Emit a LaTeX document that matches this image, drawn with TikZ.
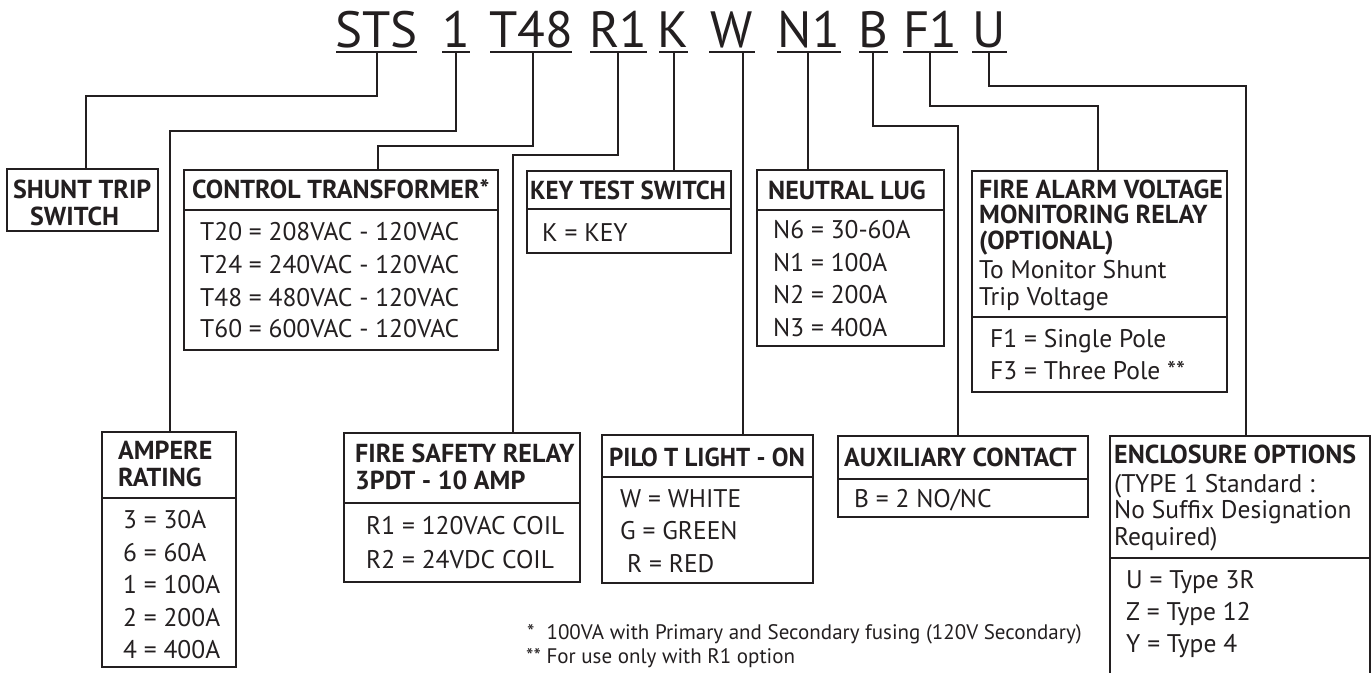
\documentclass[tikz,border=0pt]{standalone}
\usepackage{fontspec}
\setmainfont{PT Sans}
\newfontfamily\sqfont{PT Sans}[FakeStretch=0.96]
\definecolor{ink}{HTML}{231F20}
\begin{document}
\begin{tikzpicture}[x=1pt,y=-1pt,
  box/.style={draw=ink, line width=2.2pt, inner sep=0pt, outer sep=0pt, anchor=north west},
  sepline/.style={draw=ink, line width=2.2pt},
  conn/.style={draw=ink, line width=2pt},
  uline/.style={draw=ink, line width=2.2pt},
  hd/.style={anchor=base west, inner sep=0pt, text=ink, font=\fontsize{26}{26}\selectfont\bfseries},
  hdsq/.style={anchor=base west, inner sep=0pt, text=ink, font=\fontsize{26}{26}\sqfont\bfseries},
  bd/.style={anchor=base west, inner sep=0pt, text=ink, font=\fontsize{25.5}{25.5}\selectfont},
  code/.style={anchor=base, inner sep=0pt, text=ink, font=\fontsize{51}{51}\selectfont},
  fn/.style={anchor=base west, inner sep=0pt, text=ink, font=\fontsize{21}{21}\selectfont}]
\useasboundingbox (0,0) rectangle (1372,672);

% ---- code letters ----
\node[code] (c-sts) at (376.5,47) {STS};
\node[code] (c-1)   at (456,47)   {1};
\node[code] (c-t48) at (531,47)   {T48};
\node[code] (c-r1)  at (618.5,47) {R1};
\node[code] (c-k)   at (673.5,47) {K};
\node[code] (c-w)   at (732,47)   {W};
\node[code] (c-n1)  at (809,47)   {N1};
\node[code] (c-b)   at (873.5,47) {B};
\node[code] (c-f1)  at (930.5,47) {F1};
\node[code] (c-u)   at (989.5,47) {U};

\draw[uline] (336,52) -- (417,52);
\draw[uline] (442,52) -- (470,52);
\draw[uline] (490,52) -- (572,52);
\draw[uline] (590,52) -- (647,52);
\draw[uline] (659,52) -- (688,52);
\draw[uline] (709,52) -- (755,52);
\draw[uline] (777,52) -- (841,52);
\draw[uline] (859,52) -- (888,52);
\draw[uline] (903,52) -- (958,52);
\draw[uline] (972,52) -- (1007,52);

\coordinate (u-sts) at (377,52);
\coordinate (u-1)   at (456,52);
\coordinate (u-t48) at (533,52);
\coordinate (u-r1)  at (618,52);
\coordinate (u-k)   at (674,52);
\coordinate (u-w)   at (743,52);
\coordinate (u-n1)  at (808,52);
\coordinate (u-b)   at (873,52);
\coordinate (u-f1)  at (930,52);
\coordinate (u-u)   at (989,52);

% ---- boxes ----
\node[box, minimum width=151pt, minimum height=62pt]  (shunt)   at (7,169) {};
\node[box, minimum width=314pt, minimum height=180pt] (control) at (184,170) {};
\node[box, minimum width=204pt, minimum height=82pt]  (key)     at (527,171) {};
\node[box, minimum width=187pt, minimum height=176pt] (neutral) at (757,170) {};
\node[box, minimum width=255pt, minimum height=221pt] (alarm)   at (972,171) {};
\node[box, minimum width=134pt, minimum height=235pt] (ampere)  at (102,432) {};
\node[box, minimum width=236pt, minimum height=149pt] (safety)  at (344,433) {};
\node[box, minimum width=211pt, minimum height=148pt] (pilot)   at (602,435) {};
\node[box, minimum width=250pt, minimum height=81pt]  (aux)     at (838,436) {};
\node[box, minimum width=260pt, minimum height=260pt] (encl)    at (1110,436) {};

% separators
\draw[sepline] (control.west |- 0,210) -- (control.east |- 0,210);
\draw[sepline] (key.west |- 0,209) -- (key.east |- 0,209);
\draw[sepline] (neutral.west |- 0,210) -- (neutral.east |- 0,210);
\draw[sepline] (alarm.west |- 0,317) -- (alarm.east |- 0,317);
\draw[sepline] (ampere.west |- 0,498) -- (ampere.east |- 0,498);
\draw[sepline] (safety.west |- 0,503) -- (safety.east |- 0,503);
\draw[sepline] (pilot.west |- 0,477) -- (pilot.east |- 0,477);
\draw[sepline] (aux.west |- 0,479) -- (aux.east |- 0,479);
\draw[sepline] (encl.west |- 0,558) -- (encl.east |- 0,558);

% ---- connectors ----
\draw[conn] (u-sts) |- (86,96) -- (86,0 |- shunt.north);
\draw[conn] (u-1) |- (170,131) -- (170,0 |- ampere.north);
\draw[conn] (u-t48) |- (378,146) -- (378,0 |- control.north);
\draw[conn] (u-r1) |- (513,155) -- (513,0 |- safety.north);
\draw[conn] (u-k) -- (u-k |- key.north);
\draw[conn] (u-w) -- (u-w |- pilot.north);
\draw[conn] (u-n1) -- (u-n1 |- neutral.north);
\draw[conn] (u-b) |- (958,126) -- (958,0 |- aux.north);
\draw[conn] (u-f1) |- (1098,106) -- (1098,0 |- alarm.north);
\draw[conn] (u-u) |- (1246,86) -- (1246,0 |- encl.north);

% ---- texts ----
\node[hd] (shunt-h1) at (13,198) {SHUNT TRIP};
\node[hd] (shunt-h2) at (30,225) {SWITCH};

\node[hd] (control-h) at (192,198) {CONTROL TRANSFORMER*};
\node[bd] (control-1) at (200,240) {T20 = 208VAC - 120VAC};
\node[bd] (control-2) at (200,273) {T24 = 240VAC - 120VAC};
\node[bd] (control-3) at (200,306) {T48 = 480VAC - 120VAC};
\node[bd] (control-4) at (200,337) {T60 = 600VAC - 120VAC};

\node[hdsq] (key-h) at (530,199) {KEY TEST SWITCH};
\node[bd] (key-1) at (542,241) {K = KEY};

\node[hd] (neutral-h) at (768,199) {NEUTRAL LUG};
\node[bd] (neutral-1) at (773,238) {N6 = 30-60A};
\node[bd] (neutral-2) at (773,271) {N1 = 100A};
\node[bd] (neutral-3) at (773,303) {N2 = 200A};
\node[bd] (neutral-4) at (773,336) {N3 = 400A};

\node[hd] (alarm-h1) at (979,198) {FIRE ALARM VOLTAGE};
\node[hd] (alarm-h2) at (979,223) {MONITORING RELAY};
\node[hd] (alarm-h3) at (979,249) {(OPTIONAL)};
\node[bd] (alarm-h4) at (979,278) {To Monitor Shunt};
\node[bd] (alarm-h5) at (979,305) {Trip Voltage};
\node[bd] (alarm-1) at (990,347) {F1 = Single Pole};
\node[bd] (alarm-2) at (990,379) {F3 = Three Pole **};

\node[hd] (ampere-h1) at (118,459) {AMPERE};
\node[hd] (ampere-h2) at (118,486) {RATING};
\node[bd] (ampere-1) at (123,528) {3 = 30A};
\node[bd] (ampere-2) at (123,561) {6 = 60A};
\node[bd] (ampere-3) at (123,593) {1 = 100A};
\node[bd] (ampere-4) at (123,626) {2 = 200A};
\node[bd] (ampere-5) at (123,658) {4 = 400A};

\node[hd] (safety-h1) at (355,462) {FIRE SAFETY RELAY};
\node[hd] (safety-h2) at (355,489) {3PDT - 10 AMP};
\node[bd] (safety-1) at (366,534) {R1 = 120VAC COIL};
\node[bd] (safety-2) at (366,568) {R2 = 24VDC COIL};

\node[hdsq] (pilot-h) at (609,466) {PILO T LIGHT - ON};
\node[bd] (pilot-1) at (620,507) {W = WHITE};
\node[bd] (pilot-2) at (620,539) {G = GREEN};
\node[bd] (pilot-3) at (627,572) {R = RED};

\node[hd] (aux-h) at (844,466) {AUXILIARY CONTACT};
\node[bd] (aux-1) at (854,507) {B = 2 NO/NC};

\node[hd] (encl-h) at (1114,463) {ENCLOSURE OPTIONS};
\node[bd] (encl-h2) at (1114,492) {(TYPE 1 Standard :};
\node[bd] (encl-h3) at (1114,518) {No Suffix Designation};
\node[bd] (encl-h4) at (1114,545) {Required)};
\node[bd] (encl-1) at (1126,588) {U = Type 3R};
\node[bd] (encl-2) at (1126,620) {Z = Type 12};
\node[bd] (encl-3) at (1126,652) {Y = Type 4};

\node[fn] (fn1) at (527,639) {*\hspace{12pt}100VA with Primary and Secondary fusing (120V Secondary)};
\node[fn] (fn2) at (526,663) {** For use only with R1 option};
\end{tikzpicture}
\end{document}
